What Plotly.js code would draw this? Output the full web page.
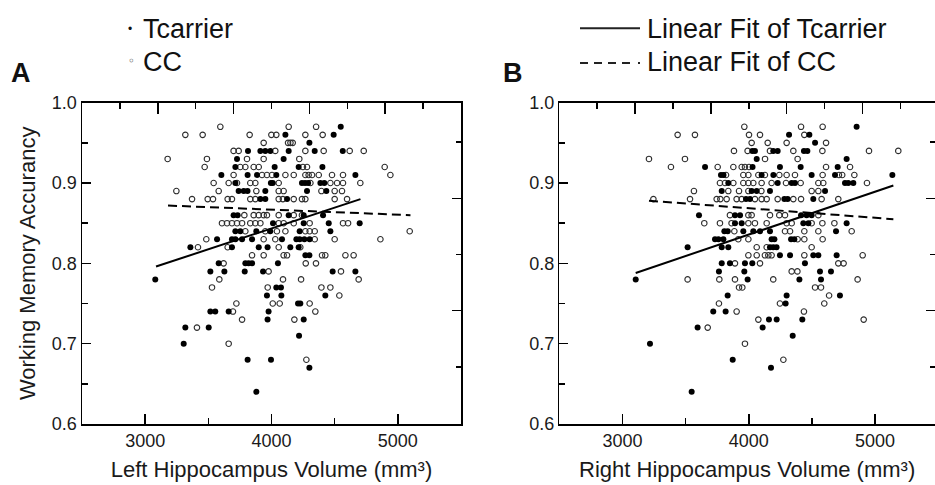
<!DOCTYPE html>
<html><head><meta charset="utf-8">
<script src="https://cdn.plot.ly/plotly-3.0.1.min.js"></script>
<style>html,body{margin:0;padding:0;background:#fff}#chart{width:935px;height:485px}</style>
</head><body><div id="chart"></div>
<script>
// ---------- data ----------
// Panel A: left hippocampus volume (mm3) vs working memory accuracy
const leftTcarrier = [
 [4548,.97],
 [4110,.96],[4492,.96],
 [4300,.95],
 [3814,.94],[3912,.94],[3951,.94],[3991,.94],[4136,.94],[4342,.94],[4564,.94],
 [3727,.93],[4096,.93],
 [3714,.92],[4025,.92],[4215,.92],[4403,.92],
 [3603,.91],[3811,.91],[3885,.91],[4038,.91],[4664,.91],
 [3714,.90],[3995,.90],[4010,.90],[4241,.90],[4265,.90],[4290,.90],[4387,.90],[4418,.90],
 [3740,.89],[3780,.89],[3810,.89],[3951,.89],[4281,.89],[4434,.89],
 [3912,.88],[3951,.88],[4123,.88],
 [3700,.86],[3732,.86],[4136,.86],[4255,.86],[4408,.86],
 [4012,.85],[4255,.85],[4453,.85],[4698,.85],
 [3714,.84],[3753,.84],[3880,.84],[3990,.84],[4223,.84],[4466,.84],
 [3569,.83],[3687,.83],[3714,.83],[3767,.83],[3846,.83],[4083,.83],[4197,.83],[4223,.83],[4260,.83],[4302,.83],
 [3358,.82],[3687,.82],[3899,.82],[3969,.82],[4149,.82],[4215,.82],
 [4268,.81],[4300,.81],
 [3582,.80],[3793,.80],[3819,.80],[3846,.80],[4051,.80],
 [3516,.79],[3627,.79],[3788,.79],[3933,.79],[4484,.79],[4664,.79],
 [3080,.78],
 [4038,.77],[4075,.77],
 [3964,.76],[4078,.76],[4426,.76],
 [4210,.75],[4228,.75],
 [3516,.74],[3555,.74],[3661,.74],[3977,.74],
 [3969,.73],[4255,.73],
 [3318,.72],[3503,.72],
 [4218,.71],
 [3305,.70],
 [3811,.68],[3996,.68],
 [4300,.67],
 [3880,.64]
];
const leftCC = [
 [3595,.97],[4136,.97],[4353,.97],
 [3318,.96],[3455,.96],[3827,.96],[3999,.96],[4038,.96],[4268,.96],[4405,.96],
 [3938,.95],[4131,.95],[4150,.95],[4168,.95],
 [3700,.94],[3740,.94],[4030,.94],[4268,.94],[4413,.94],[4619,.94],[4730,.94],
 [3178,.93],[3489,.93],[3806,.93],[3938,.93],[4220,.93],
 [3471,.92],[3753,.92],[3793,.92],[3859,.92],[3899,.92],[4249,.92],[4281,.92],[4896,.92],
 [3700,.91],[3925,.91],[3964,.91],[4004,.91],[4110,.91],[4176,.91],[4268,.91],[4294,.91],[4321,.91],[4374,.91],[4479,.91],[4566,.91],[4941,.91],
 [3542,.90],[3661,.90],[3727,.90],[3832,.90],[3872,.90],[4057,.90],[4308,.90],[4466,.90],[4519,.90],[4566,.90],[4703,.90],
 [3247,.89],[3582,.89],[3880,.89],[4057,.89],[4096,.89],[4395,.89],[4500,.89],[4558,.89],
 [3371,.88],[3495,.88],[3537,.88],[3653,.88],[3687,.88],[3832,.88],[3872,.88],[4057,.88],[4090,.88],[4176,.88],[4241,.88],[4268,.88],[4500,.88],[4598,.88],
 [3785,.86],[3859,.86],[3899,.86],[3938,.86],[3964,.86],[4057,.86],[4176,.86],[4241,.86],
 [3608,.85],[3648,.85],[3687,.85],[3727,.85],[3767,.85],[3832,.85],[3872,.85],[3912,.85],[4057,.85],[4096,.85],[4176,.85],[4302,.85],[4566,.85],[4606,.85],
 [3793,.84],[3951,.84],[4043,.84],[4110,.84],[4268,.84],[4302,.84],[4342,.84],[5094,.84],
 [3484,.83],[3938,.83],[4030,.83],[4342,.83],[4500,.83],[4862,.83],
 [3418,.82],[3653,.82],[4057,.82],[4228,.82],
 [3846,.81],[3938,.81],[4096,.81],[4123,.81],[4400,.81],[4426,.81],[4585,.81],[4650,.81],
 [3621,.80],[4271,.80],[4352,.80],
 [3977,.79],[4550,.79],
 [3587,.78],[4091,.78],[4234,.78],[4690,.78],
 [3529,.77],[3970,.77],[4395,.77],[4466,.77],
 [4537,.76],
 [3722,.75],[4010,.75],[4065,.75],[4302,.75],
 [3695,.74],[4347,.74],
 [3767,.73],[4181,.73],
 [3410,.72],
 [3661,.70],
 [4276,.68]
];
// Panel B: right hippocampus volume (mm3) vs working memory accuracy
const rightTcarrier = [
 [4854,.97],
 [4319,.96],[4480,.96],
 [4525,.95],
 [4028,.94],[4049,.94],[4194,.94],[4229,.94],[4437,.94],[4464,.94],
 [4063,.93],[4775,.93],
 [3654,.92],[4030,.92],[4247,.92],[4411,.92],[4704,.92],
 [3780,.91],[3800,.91],[4102,.91],[4195,.91],[4498,.91],[4683,.91],[5137,.91],
 [3838,.90],[4229,.90],[4340,.90],[4366,.90],[4762,.90],[4788,.90],[4828,.90],
 [3786,.89],[4023,.89],[4063,.89],[4168,.89],[4604,.89],
 [3978,.88],[4010,.88],[4282,.88],[4308,.88],[4511,.88],
 [3606,.86],[3891,.86],[3931,.86],[4414,.86],[4458,.86],[4498,.86],
 [3891,.85],[3944,.85],[4432,.85],[4472,.85],[4775,.85],
 [3807,.84],[3833,.84],[3957,.84],[4036,.84],[4089,.84],[4168,.84],[4691,.84],
 [3733,.83],[3760,.83],[3799,.83],[4181,.83],[4203,.83],[4335,.83],[4361,.83],
 [3516,.82],[3786,.82],[3838,.82],[4168,.82],[4194,.82],[4220,.82],
 [4247,.81],[4327,.81],[4511,.81],[4551,.81],[4696,.81],
 [3786,.80],[3851,.80],[3970,.80],[4028,.80],[4445,.80],
 [3764,.79],[3965,.79],[4564,.79],[4651,.79],
 [3105,.78],[3991,.78],[4401,.78],[4572,.78],
 [3833,.76],[4300,.76],[4722,.76],
 [4292,.75],
 [3719,.74],[3817,.74],
 [4160,.73],[4221,.73],[4424,.73],
 [3595,.72],[4110,.72],
 [4348,.71],
 [3218,.70],
 [3873,.68],
 [4176,.67],
 [3548,.64]
];
const rightCC = [
 [3965,.97],[4414,.97],[4585,.97],
 [3437,.96],[3574,.96],[4002,.96],[4089,.96],[4440,.96],
 [4023,.95],[4150,.95],[4300,.95],[4612,.95],
 [3883,.94],[3991,.94],[4168,.94],[4353,.94],[4583,.94],[4952,.94],[5184,.94],
 [3210,.93],[3495,.93],[4129,.93],[4387,.93],
 [3384,.92],[3754,.92],[3878,.92],[3944,.92],[3970,.92],[4002,.92],[4612,.92],[4802,.92],
 [3820,.91],[3957,.91],[3997,.91],[4076,.91],[4128,.91],[4242,.91],[4300,.91],[4366,.91],[4585,.91],[4714,.91],[4740,.91],[4836,.91],
 [3772,.90],[3812,.90],[3878,.90],[3957,.90],[3997,.90],[4036,.90],[4102,.90],[4181,.90],[4295,.90],[4411,.90],[4551,.90],[4590,.90],[4936,.90],
 [3566,.89],[3838,.89],[3923,.89],[3997,.89],[4100,.89],[4498,.89],[4551,.89],
 [3245,.88],[3535,.88],[3746,.88],[3775,.88],[3825,.88],[3904,.88],[3944,.88],[4049,.88],[4102,.88],[4142,.88],[4229,.88],[4353,.88],[4414,.88],[4577,.88],[4709,.88],
 [3851,.86],[3997,.86],[4023,.86],[4168,.86],[4242,.86],[4287,.86],[4551,.86],
 [3648,.85],[3772,.85],[3864,.85],[3997,.85],[4049,.85],[4142,.85],[4300,.85],[4340,.85],[4498,.85],[4583,.85],[4678,.85],
 [3886,.84],[4287,.84],[4327,.84],[4440,.84],[4551,.84],[4815,.84],
 [3917,.83],[3997,.83],[4387,.83],[4440,.83],[4585,.83],
 [4063,.82],[4142,.82],[4498,.82],
 [3997,.81],[4063,.81],[4128,.81],[4155,.81],[4181,.81],[4440,.81],[4902,.81],
 [3891,.80],[4089,.80],[4709,.80],[4751,.80],
 [4340,.79],[4385,.79],
 [3516,.78],[3767,.78],[3891,.78],[4194,.78],[4862,.78],
 [3923,.77],[3949,.77],[4525,.77],[4572,.77],
 [4636,.76],
 [3764,.75],[4247,.75],[4598,.75],
 [3904,.74],[4437,.74],
 [4076,.73],[4910,.73],
 [3675,.72],
 [3970,.70],
 [4274,.68]
];
// Linear fit end points
const leftFitTcarrierX = [3086, 4704];
const leftFitTcarrierY = [0.796, 0.880];
const leftFitCCX = [3181, 5100];
const leftFitCCY = [0.872, 0.860];
const rightFitTcarrierX = [3105, 5145];
const rightFitTcarrierY = [0.788, 0.897];
const rightFitCCX = [3210, 5145];
const rightFitCCY = [0.878, 0.855];

const xTickVals = [3000, 4000, 5000];
const yTickVals = [0.6, 0.7, 0.8, 0.9, 1.0];
const legendLabels = ['Tcarrier', 'CC', 'Linear Fit of Tcarrier', 'Linear Fit of CC'];
const panelLabels = ['A', 'B'];
const xTitles = ['Left Hippocampus Volume (mm\u00B3)', 'Right Hippocampus Volume (mm\u00B3)'];
const yTitle = 'Working Memory Accurancy';

// ---------- drawing ----------
const W = 935, H = 485;
const FONT = 'Liberation Sans, Arial, Helvetica, sans-serif';
const px = v => v / W;
const py = v => 1 - v / H;

const filledMarker = {symbol: 'circle', size: 6, color: '#000'};
const openMarker = {symbol: 'circle-open', size: 5.5, color: '#2e2e2e', line: {width: 1.1}};

function pts(arr, i) { return arr.map(p => p[i]); }

const traces = [];
function panel(tc, cc, fTx, fTy, fCx, fCy, xa, ya) {
  traces.push({type: 'scatter', mode: 'markers', name: 'CC', x: pts(cc, 0), y: pts(cc, 1),
    xaxis: xa, yaxis: ya, marker: openMarker, showlegend: false, hoverinfo: 'skip'});
  traces.push({type: 'scatter', mode: 'markers', name: 'Tcarrier', x: pts(tc, 0), y: pts(tc, 1),
    xaxis: xa, yaxis: ya, marker: filledMarker, showlegend: false, hoverinfo: 'skip'});
  traces.push({type: 'scatter', mode: 'lines', name: 'Linear Fit of Tcarrier', x: fTx, y: fTy,
    xaxis: xa, yaxis: ya, line: {color: '#000', width: 2}, showlegend: false, hoverinfo: 'skip'});
  traces.push({type: 'scatter', mode: 'lines', name: 'Linear Fit of CC', x: fCx, y: fCy,
    xaxis: xa, yaxis: ya, line: {color: '#000', width: 2, dash: '9px,5px'}, showlegend: false, hoverinfo: 'skip'});
}
panel(leftTcarrier, leftCC, leftFitTcarrierX, leftFitTcarrierY, leftFitCCX, leftFitCCY, 'x', 'y');
panel(rightTcarrier, rightCC, rightFitTcarrierX, rightFitTcarrierY, rightFitCCX, rightFitCCY, 'x2', 'y2');
// empty traces so the mirror-style frame axes are created
traces.push({type: 'scatter', x: [], y: [], xaxis: 'x3', yaxis: 'y', showlegend: false});
traces.push({type: 'scatter', x: [], y: [], xaxis: 'x', yaxis: 'y3', showlegend: false});
traces.push({type: 'scatter', x: [], y: [], xaxis: 'x4', yaxis: 'y2', showlegend: false});
traces.push({type: 'scatter', x: [], y: [], xaxis: 'x2', yaxis: 'y4', showlegend: false});

const tickFont = {family: FONT, size: 18, color: '#1a1a1a'};
const titleFont = {family: FONT, size: 22, color: '#1a1a1a'};
const yDom = [py(424), py(102.7)];
const xDomA = [px(82), px(461)];
const xDomB = [px(559.3), 1];
const xRangeA = [2500, 5500];
const xRangeB = [2500, 2500 + (W - 559.3) / 0.1263];

function bottomX(dom, range, anchor, title) {
  return {domain: dom, range: range, anchor: anchor, showline: true, linecolor: '#000', linewidth: 1.5,
    ticks: 'inside', tickmode: 'array', tickvals: xTickVals, ticklen: 10, tickwidth: 1.5, tickcolor: '#000',
    minor: {ticks: 'inside', tickmode: 'array', tickvals: [3500, 4500], ticklen: 6, tickwidth: 1.5, tickcolor: '#000'},
    tickformat: 'd', tickfont: tickFont, showgrid: false, zeroline: false, fixedrange: true,
    title: {text: title, font: titleFont, standoff: 11}};
}
function leftY(anchor, title) {
  const o = {domain: yDom, range: [0.6, 1.0], anchor: anchor, showline: true, linecolor: '#000', linewidth: 1.5,
    ticks: 'inside', tickmode: 'array', tickvals: yTickVals, ticklen: 9, tickwidth: 1.5, tickcolor: '#000',
    minor: {ticks: 'inside', tickmode: 'array', tickvals: [0.65, 0.75, 0.85, 0.95], ticklen: 6, tickwidth: 1.5, tickcolor: '#000'},
    tickformat: '.1f', tickfont: tickFont, showgrid: false, zeroline: false, fixedrange: true};
  if (title) o.title = {text: title, font: titleFont, standoff: 10};
  return o;
}
function topX(over, anchor, range) {
  return {overlaying: over, anchor: anchor, side: 'top', range: range, showline: true, linecolor: '#000', linewidth: 1.5,
    ticks: 'inside', tickmode: 'array', tickvals: [3100, 3700, 4300, 4900], ticklen: 11, tickwidth: 1.5, tickcolor: '#000',
    minor: {ticks: 'inside', tickmode: 'array', tickvals: [2800, 3400, 4000, 4600, 5200], ticklen: 6, tickwidth: 1.5, tickcolor: '#000'},
    showticklabels: false, showgrid: false, zeroline: false, fixedrange: true};
}
function rightY(over, anchor, line) {
  return {overlaying: over, anchor: anchor, side: 'right', range: [0.6, 1.0], showline: line, linecolor: '#000', linewidth: 1.5,
    ticks: 'inside', tickmode: 'array', tickvals: [0.741, 0.881], ticklen: 9, tickwidth: 1.5, tickcolor: '#000',
    minor: {ticks: 'inside', tickmode: 'array', tickvals: [0.671, 0.811, 0.951], ticklen: 5, tickwidth: 1.5, tickcolor: '#000'},
    showticklabels: false, showgrid: false, zeroline: false, fixedrange: true};
}

const annFont = s => ({family: FONT, size: s, color: '#111'});
const boldFont = s => ({family: 'Liberation Sans, Arial, sans-serif', size: s, color: '#111', weight: 'bold'});
const annotations = [
  {text: panelLabels[0], x: px(9), y: py(72.5), xanchor: 'left', yanchor: 'middle', font: boldFont(27)},
  {text: panelLabels[1], x: px(501), y: py(72.5), xanchor: 'left', yanchor: 'middle', font: boldFont(27)},
  {text: '\u2022', x: px(130), y: py(29), xanchor: 'center', yanchor: 'middle', font: annFont(12)},
  {text: legendLabels[0], x: px(141), y: py(29), xanchor: 'left', yanchor: 'middle', font: annFont(27)},
  {text: '\u25E6', x: px(131), y: py(61), xanchor: 'center', yanchor: 'middle', font: {family: 'DejaVu Sans', size: 12, color: '#333'}},
  {text: legendLabels[1], x: px(141), y: py(62), xanchor: 'left', yanchor: 'middle', font: annFont(27)},
  {text: legendLabels[2], x: px(645), y: py(28.5), xanchor: 'left', yanchor: 'middle', font: annFont(27)},
  {text: legendLabels[3], x: px(645), y: py(62), xanchor: 'left', yanchor: 'middle', font: annFont(27)}
].map(a => Object.assign({xref: 'paper', yref: 'paper', showarrow: false}, a));

const shapes = [
  {type: 'line', xref: 'paper', yref: 'paper', x0: px(580), x1: px(640), y0: py(28.3), y1: py(28.3), line: {color: '#222', width: 2}},
  {type: 'line', xref: 'paper', yref: 'paper', x0: px(580), x1: px(634), y0: py(63), y1: py(63), line: {color: '#222', width: 2, dash: '8px,6px'}},
  {type: 'line', xref: 'paper', yref: 'paper', x0: px(638), x1: px(640), y0: py(63), y1: py(63), line: {color: '#222', width: 2}}
];

const layout = {
  width: W, height: H, margin: {l: 0, r: 0, t: 0, b: 0, pad: 0},
  paper_bgcolor: '#fff', plot_bgcolor: '#fff', showlegend: false,
  font: {family: FONT, color: '#1a1a1a'},
  xaxis: bottomX(xDomA, xRangeA, 'y', xTitles[0]),
  yaxis: leftY('x', yTitle),
  xaxis2: bottomX(xDomB, xRangeB, 'y2', xTitles[1]),
  yaxis2: leftY('x2', null),
  xaxis3: topX('x', 'y', xRangeA),
  yaxis3: rightY('y', 'x', true),
  xaxis4: topX('x2', 'y2', xRangeB),
  yaxis4: rightY('y2', 'x2', false),
  annotations: annotations, shapes: shapes
};

Plotly.newPlot('chart', traces, layout, {staticPlot: true, displayModeBar: false});
</script></body></html>
